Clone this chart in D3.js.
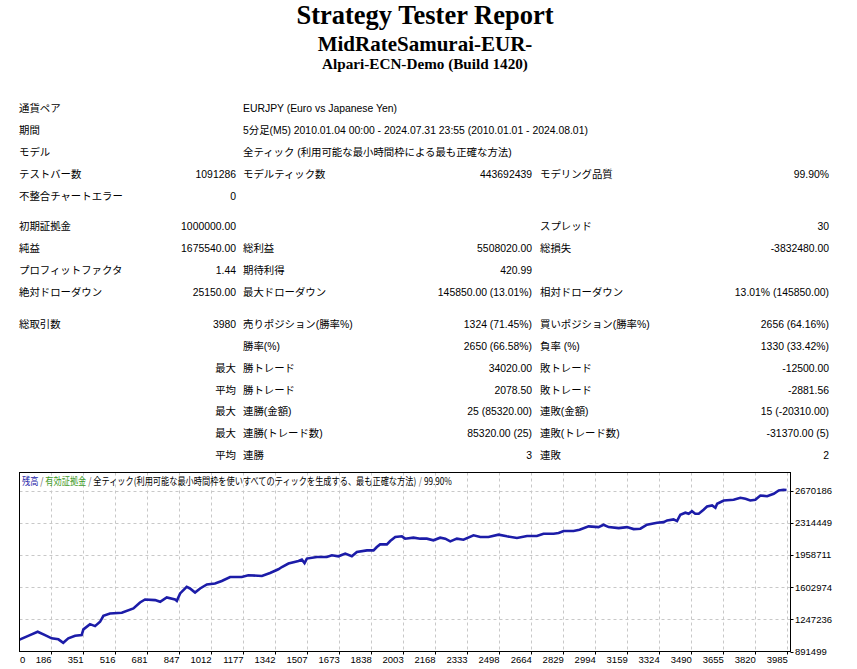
<!DOCTYPE html>
<html><head><meta charset="utf-8">
<script src="https://cdn.jsdelivr.net/npm/d3@7"></script>
<style>
html,body{margin:0;padding:0;background:#fff;}
svg{display:block;}
.t{font-family:"Liberation Sans","Noto Sans CJK JP",sans-serif;font-size:10.4px;fill:#000;}
.ax{font-family:"Liberation Sans",sans-serif;font-size:9.5px;fill:#000;}
</style></head>
<body>
<script>
// ---- header ----
const titleLines = ["Strategy Tester Report", "MidRateSamurai-EUR-", "Alpari-ECN-Demo (Build 1420)"];

// ---- report table rows: [label1, value1, label2, value2, label3, value3] ----
const block1 = [
  ["通貨ペア", "", "EURJPY (Euro vs Japanese Yen)", "", "", ""],
  ["期間", "", "5分足(M5) 2010.01.04 00:00 - 2024.07.31 23:55 (2010.01.01 - 2024.08.01)", "", "", ""],
  ["モデル", "", "全ティック (利用可能な最小時間枠による最も正確な方法)", "", "", ""],
  ["テストバー数", "1091286", "モデルティック数", "443692439", "モデリング品質", "99.90%"],
  ["不整合チャートエラー", "0", "", "", "", ""]
];
const block2 = [
  ["初期証拠金", "1000000.00", "", "", "スプレッド", "30"],
  ["純益", "1675540.00", "総利益", "5508020.00", "総損失", "-3832480.00"],
  ["プロフィットファクタ", "1.44", "期待利得", "420.99", "", ""],
  ["絶対ドローダウン", "25150.00", "最大ドローダウン", "145850.00 (13.01%)", "相対ドローダウン", "13.01% (145850.00)"]
];
const block3 = [
  ["総取引数", "3980", "売りポジション(勝率%)", "1324 (71.45%)", "買いポジション(勝率%)", "2656 (64.16%)"],
  ["", "", "勝率(%)", "2650 (66.58%)", "負率 (%)", "1330 (33.42%)"],
  ["", "最大", "勝トレード", "34020.00", "敗トレード", "-12500.00"],
  ["", "平均", "勝トレード", "2078.50", "敗トレード", "-2881.56"],
  ["", "最大", "連勝(金額)", "25 (85320.00)", "連敗(金額)", "15 (-20310.00)"],
  ["", "最大", "連勝(トレード数)", "85320.00 (25)", "連敗(トレード数)", "-31370.00 (5)"],
  ["", "平均", "連勝", "3", "連敗", "2"]
];

// ---- chart data ----
const legendParts = [
  {text: "残高", color: "#1c1ca8"},
  {text: " / ", color: "#555"},
  {text: "有効証拠金", color: "#3c9a1e"},
  {text: " / ", color: "#555"},
  {text: "全ティック(利用可能な最小時間枠を使いすべてのティックを生成する、最も正確な方法)", color: "#000"},
  {text: " / ", color: "#555"},
  {text: "99.90%", color: "#000"}
];
const xTickValues = [186,351,516,681,847,1012,1177,1342,1507,1673,1838,2003,2168,2333,2498,2664,2829,2994,3159,3324,3490,3655,3820,3985];
const yTickValues = [891499,1247236,1602974,1958711,2314449,2670186];
const tradeNo = [0,77,117,155,189,224,249,275,310,344,353,387,413,439,456,490,551,611,645,671,723,749,783,826,835,852,886,903,929,955,990,1032,1067,1110,1170,1204,1274,1316,1359,1377,1411,1463,1480,1494,1506,1558,1609,1635,1669,1704,1738,1764,1816,1850,1867,1884,1919,1936,1962,1996,2013,2056,2091,2125,2159,2194,2220,2246,2280,2314,2366,2401,2443,2495,2538,2590,2642,2693,2727,2779,2805,2831,2882,2913,2960,3011,3037,3063,3115,3158,3192,3227,3261,3313,3347,3365,3398,3416,3433,3459,3476,3493,3510,3528,3553,3571,3597,3614,3623,3657,3708,3743,3769,3794,3820,3846,3881,3915,3941,3966,3981];
const balance = [1000000,1073000,1110000,1073000,1037000,1026000,988000,1037000,1066000,1073000,1136000,1194000,1172000,1220000,1286000,1312000,1319000,1367000,1433000,1466000,1459000,1440000,1488000,1466000,1451000,1533000,1605000,1588000,1543000,1588000,1632000,1643000,1671000,1715000,1715000,1734000,1726000,1759000,1800000,1825000,1863000,1892000,1907000,1869000,1918000,1936000,1936000,1954000,1943000,1973000,1943000,1991000,2009000,2009000,2046000,2075000,2075000,2112000,2156000,2164000,2138000,2149000,2138000,2138000,2120000,2149000,2138000,2108000,2138000,2127000,2175000,2156000,2156000,2182000,2164000,2145000,2167000,2167000,2193000,2193000,2200000,2222000,2222000,2237000,2274000,2266000,2292000,2266000,2255000,2266000,2244000,2248000,2292000,2314000,2321000,2340000,2351000,2332000,2403000,2425000,2414000,2442000,2414000,2414000,2458000,2494000,2505000,2480000,2524000,2560000,2568000,2590000,2579000,2560000,2568000,2615000,2607000,2634000,2670000,2678000,2675540];

(function(){
const W = 857, H = 669;
const svg = d3.select("body").append("svg").attr("width", W).attr("height", H);

// header
const hdr = [{y:24, size:26.5}, {y:50.5, size:21}, {y:68.5, size:15.2}];
svg.selectAll("text.hdr").data(titleLines).join("text")
  .attr("class","hdr")
  .attr("x", 425).attr("y", (d,i)=>hdr[i].y)
  .attr("text-anchor","middle")
  .style("font-family", '"Liberation Serif","Times New Roman",serif')
  .style("font-weight","bold")
  .style("font-size", (d,i)=>hdr[i].size+"px")
  .text(d=>d);

// table
const colX = [19, 236, 243, 532, 540, 829];
const colAnchor = ["start","end","start","end","start","end"];
function drawBlock(rows, ys){
  rows.forEach((r,i)=>{
    r.forEach((cell,j)=>{
      if(!cell) return;
      svg.append("text").attr("class","t")
        .attr("x", colX[j]).attr("y", ys[i] + 3.7)
        .attr("text-anchor", colAnchor[j])
        .text(cell);
    });
  });
}
drawBlock(block1, [108,130,152,174,196]);
drawBlock(block2, [226,248,270,292]);
drawBlock(block3, [324,346,368,390,411.5,433.5,455.5]);

// chart
const pL = 19.5, pR = 790.5, pT = 472.5, pB = 651.5;
const x = d3.scaleLinear().domain([0, 3985]).range([15, 787.3]);
const y = d3.scaleLinear().domain([891499, 2670186]).range([651.5, 490.5]);

const g = svg.append("g");
// grid
g.selectAll("line.vg").data(xTickValues).join("line")
  .attr("x1", d=>Math.round(x(d))+0.5).attr("x2", d=>Math.round(x(d))+0.5)
  .attr("y1", pT).attr("y2", pB)
  .attr("stroke","#c8c8c8").attr("stroke-dasharray","3,3");
g.selectAll("line.hg").data(yTickValues.slice(1)).join("line")
  .attr("y1", d=>Math.round(y(d))+0.5).attr("y2", d=>Math.round(y(d))+0.5)
  .attr("x1", pL).attr("x2", pR)
  .attr("stroke","#c8c8c8").attr("stroke-dasharray","3,3");

// clip
svg.append("clipPath").attr("id","pc").append("rect")
  .attr("x", pL).attr("y", pT).attr("width", pR-pL).attr("height", pB-pT);

const line = d3.line().x((d,i)=>x(tradeNo[i])).y(d=>y(d));
g.append("path").datum(balance)
  .attr("clip-path","url(#pc)")
  .attr("d", line)
  .attr("fill","none").attr("stroke","#1c1ca8").attr("stroke-width",2.6)
  .attr("stroke-linejoin","miter");

// frame
g.append("rect").attr("x", pL).attr("y", pT).attr("width", pR-pL).attr("height", pB-pT)
  .attr("fill","none").attr("stroke","#000").attr("stroke-width",1);

// x axis ticks and labels
g.selectAll("line.xt").data(xTickValues).join("line")
  .attr("x1", d=>Math.round(x(d))+0.5).attr("x2", d=>Math.round(x(d))+0.5)
  .attr("y1", pB).attr("y2", pB+3).attr("stroke","#000");
g.selectAll("text.xl").data(xTickValues).join("text").attr("class","ax")
  .attr("x", d=>x(d)+0.5).attr("y", 662.5).attr("text-anchor","end").text(d=>d);
g.append("text").attr("class","ax").attr("x", 20).attr("y", 662.5).text("0");

// y axis ticks and labels
g.selectAll("line.yt").data(yTickValues).join("line")
  .attr("y1", d=>Math.round(y(d))+0.5).attr("y2", d=>Math.round(y(d))+0.5)
  .attr("x1", pR).attr("x2", pR+3).attr("stroke","#000");
g.selectAll("text.yl").data(yTickValues).join("text").attr("class","ax")
  .attr("x", 795).attr("y", d=>y(d)+3.5).text(d=>d);

// legend: separate texts laid out side by side, then squeezed to the reference width
const lgG = g.append("g");
const parts = lgG.selectAll("text").data(legendParts).join("text")
  .attr("y", 0)
  .attr("fill", d=>d.color)
  .style("font-family",'"Noto Sans CJK JP","Liberation Sans",sans-serif')
  .style("font-size","10px")
  .style("white-space","pre")
  .attr("xml:space","preserve")
  .text(d=>d.text);
let cx = 0;
parts.each(function(){
  d3.select(this).attr("x", cx);
  cx += this.getComputedTextLength();
});
const sx = 430 / cx;
lgG.attr("transform", `translate(22,485) scale(${sx},1)`);
})();
</script>
</body></html>
